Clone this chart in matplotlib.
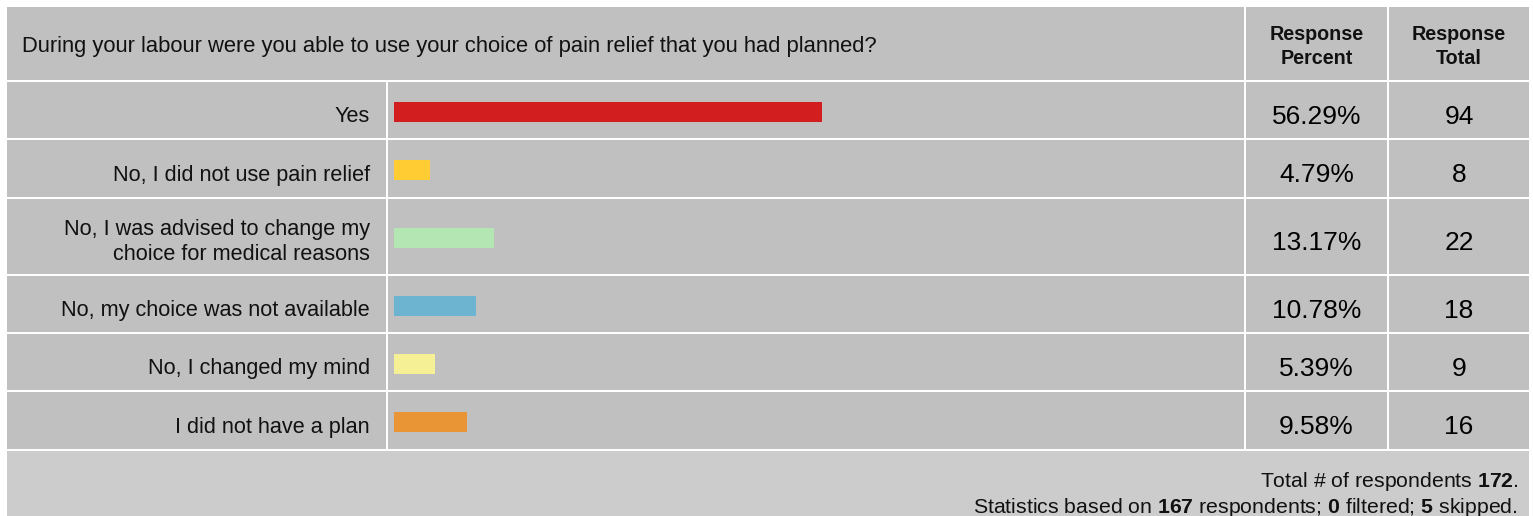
import matplotlib
matplotlib.use('Agg')
import matplotlib.pyplot as plt
from matplotlib.patches import Rectangle

# ---------------- data ----------------
question = "During your labour were you able to use your choice of pain relief that you had planned?"
categories = [
    "Yes",
    "No, I did not use pain relief",
    "No, I was advised to change my\nchoice for medical reasons",
    "No, my choice was not available",
    "No, I changed my mind",
    "I did not have a plan",
]
percents = [56.29, 4.79, 13.17, 10.78, 5.39, 9.58]
totals = [94, 8, 22, 18, 9, 16]
bar_colors = ["#D21E1F", "#FFCC33", "#B4E6B4", "#6CB4CF", "#F5F096", "#E99535"]
header_cols = ["Response\nPercent", "Response\nTotal"]
total_respondents = 172
answered = 167
filtered = 0
skipped = 5

# ---------------- style / layout (pixels) ----------------
plt.rcParams['font.family'] = ['Liberation Sans', 'DejaVu Sans']
plt.rcParams['mathtext.fontset'] = 'custom'
plt.rcParams['mathtext.rm'] = 'Liberation Sans'
plt.rcParams['mathtext.bf'] = 'Liberation Sans:bold'

W, H = 1533, 516
DPI = 100
CELL = "#C0C0C0"
FOOT = "#CCCCCC"

x_left, x_lab_r = 7, 386
x_bar_l, x_bar_r = 388, 1244
x_pct_l, x_pct_r = 1246, 1387
x_tot_l, x_tot_r = 1389, 1529
header_tb = (7, 80)
rows_tb = [(82, 138), (140, 197), (199, 274), (276, 332), (334, 390), (392, 449)]
footer_tb = (451, 516)
bar_x0 = 394
bar_full = 760   # px for 100 %
bar_h = 20

fig = plt.figure(figsize=(W / DPI, H / DPI), dpi=DPI)
bg = fig.add_axes([0, 0, 1, 1])
bg.set_xlim(0, W)
bg.set_ylim(H, 0)
bg.axis('off')


def cell(x0, x1, y0, y1, color=CELL):
    bg.add_patch(Rectangle((x0, y0), x1 - x0, y1 - y0, facecolor=color,
                           edgecolor='none', zorder=1))


# header
cell(x_left, x_bar_r, *header_tb)
cell(x_pct_l, x_pct_r, *header_tb)
cell(x_tot_l, x_tot_r, *header_tb)
hy = (header_tb[0] + header_tb[1]) / 2
bg.text(22, hy + 3, question, ha='left', va='center', fontsize=15.8, color='#111111', zorder=3)
bg.text((x_pct_l + x_pct_r) / 2, hy + 3, header_cols[0], ha='center', va='center',
        fontsize=14.2, fontweight='bold', linespacing=1.28, color='#111111', zorder=3)
bg.text((x_tot_l + x_tot_r) / 2, hy + 3, header_cols[1], ha='center', va='center',
        fontsize=14.2, fontweight='bold', linespacing=1.28, color='#111111', zorder=3)

# rows
for i, (t, b) in enumerate(rows_tb):
    cell(x_left, x_lab_r, t, b)
    cell(x_bar_l, x_bar_r, t, b)
    cell(x_pct_l, x_pct_r, t, b)
    cell(x_tot_l, x_tot_r, t, b)
    cy = (t + b) / 2
    multi = "\n" in categories[i]
    bg.text(x_lab_r - 16, cy + (5.5 if multi else 6.5), categories[i], ha='right',
            va='center', fontsize=15.6, color='#111111', linespacing=1.3, zorder=3)
    bg.text((x_pct_l + x_pct_r) / 2, cy + 6.5, f"{percents[i]:.2f}%", ha='center',
            va='center', fontsize=19, color='#000000', zorder=3)
    bg.text((x_tot_l + x_tot_r) / 2, cy + 6.5, f"{totals[i]}", ha='center',
            va='center', fontsize=19, color='#000000', zorder=3)

    # bar axes for this row
    bcy = cy + 1.5
    ax = fig.add_axes([bar_x0 / W, 1 - (bcy + bar_h / 2) / H,
                       bar_full / W, bar_h / H])
    ax.set_xlim(0, 100)
    ax.set_ylim(-0.5, 0.5)
    ax.barh([0], [percents[i]], height=1.0, left=0, color=bar_colors[i])
    ax.axis('off')
    ax.patch.set_visible(False)

# footer
cell(x_left, x_tot_r, *footer_tb, color=FOOT)
bg.text(1518, 487,
        r"Total # of respondents $\mathbf{%d}$." % total_respondents,
        ha='right', va='baseline', fontsize=15.3, color='#111111', zorder=3)
bg.text(1518, 513,
        r"Statistics based on $\mathbf{%d}$ respondents; $\mathbf{%d}$ filtered; "
        r"$\mathbf{%d}$ skipped." % (answered, filtered, skipped),
        ha='right', va='baseline', fontsize=15.3, color='#111111', zorder=3)

fig.savefig("out.png", dpi=DPI, facecolor='white')
